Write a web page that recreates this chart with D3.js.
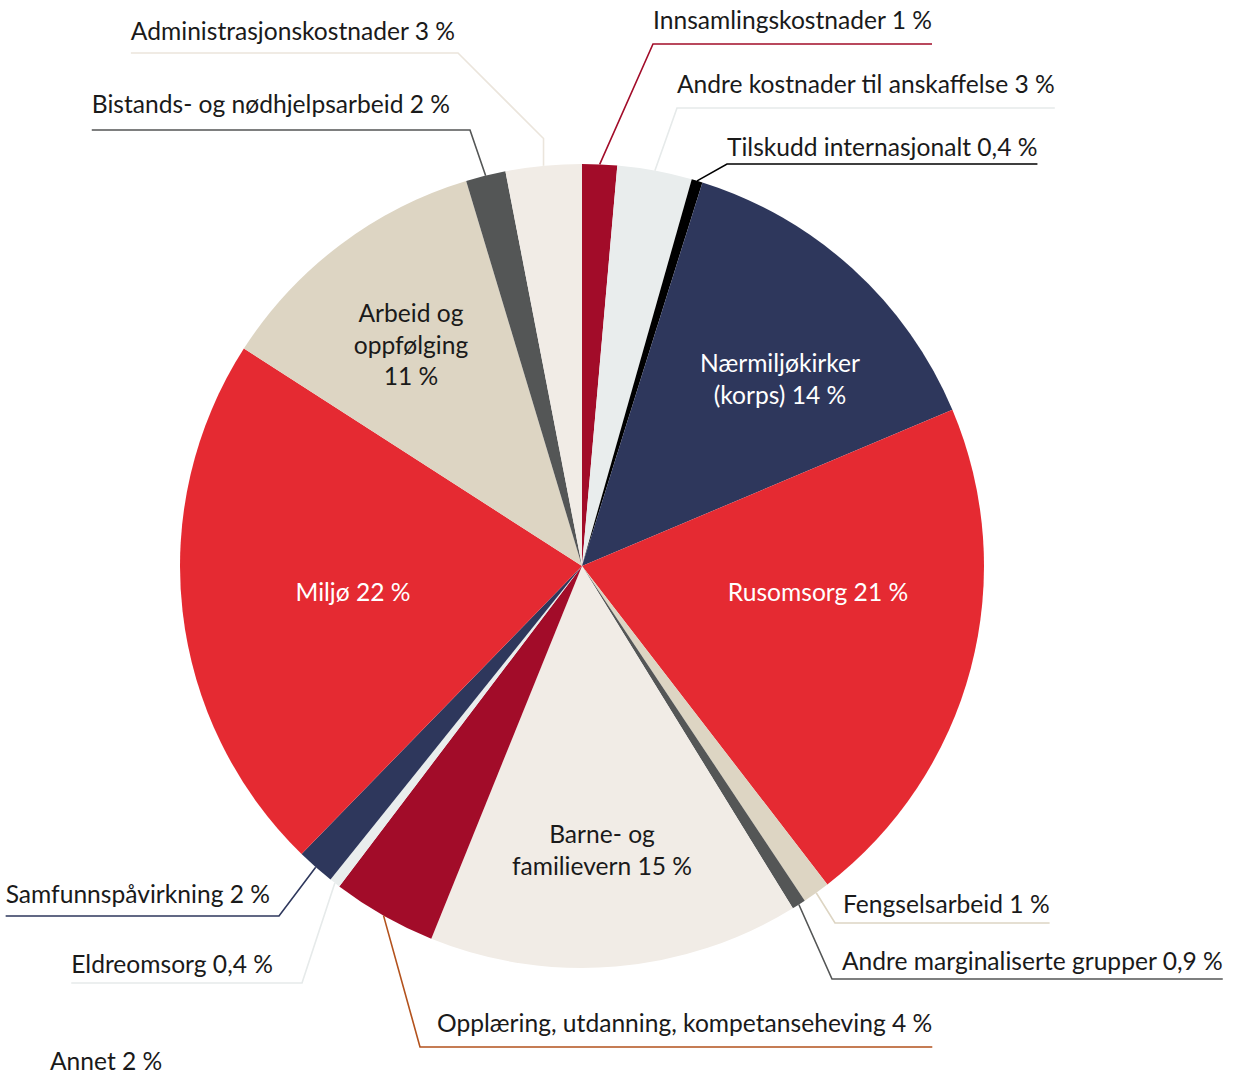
<!DOCTYPE html>
<html>
<head>
<meta charset="utf-8">
<script src="https://cdn.jsdelivr.net/npm/d3@7"></script>
<style>
  body { margin: 0; background: #fff; }
  text { font-family: Lato, "Open Sans", sans-serif; }
</style>
</head>
<body>
<div id="chart"></div>
<script>
// slices, clockwise from 12 o'clock
var names = [
  "Innsamlingskostnader", "Andre kostnader til anskaffelse", "Tilskudd internasjonalt",
  "Nærmiljøkirker (korps)", "Rusomsorg", "Fengselsarbeid", "Andre marginaliserte grupper",
  "Barne- og familievern", "Opplæring, utdanning, kompetanseheving", "Eldreomsorg",
  "Samfunnspåvirkning", "Miljø", "Arbeid og oppfølging", "Bistands- og nødhjelpsarbeid",
  "Administrasjonskostnader"
];
// share of the circle (percent)
var shares = [1.4, 3.0, 0.44, 13.8, 20.9, 1.1, 0.56, 14.9, 4.2, 0.44, 1.53, 21.8, 11.25, 1.6, 3.05];
// printed labels
var pctText = ["1 %", "3 %", "0,4 %", "14 %", "21 %", "1 %", "0,9 %", "15 %", "4 %", "0,4 %", "2 %", "22 %", "11 %", "2 %", "3 %"];
var extraLabel = "Annet 2 %";

var colors = ["#a20c29", "#e9eded", "#000000", "#2e375c", "#e52a32", "#ddd5c3", "#545656",
  "#f1ece6", "#a20c29", "#e9eded", "#2e375c", "#e52a32", "#ddd5c3", "#545656", "#f1ece6"];
var lineColors = ["#a20c29", "#e6eaea", "#000000", "#2e375c", "#e52a32", "#ddd5c3", "#545656",
  "#f1ece6", "#b3521d", "#e6eaea", "#2e375c", "#e52a32", "#ddd5c3", "#545656", "#ebe5dc"];

var W = 1241, H = 1076;
var cx = 582, cy = 566, R = 402;
var fs = 24.6;

var svg = d3.select("#chart").append("svg")
  .attr("width", W).attr("height", H)
  .attr("viewBox", "0 0 " + W + " " + H);

var data = names.map(function (n, i) {
  return { name: n, share: shares[i], pct: pctText[i], color: colors[i], line: lineColors[i] };
});

var pie = d3.pie().sort(null).value(function (d) { return d.share; });
var arcs = pie(data);
var arc = d3.arc().innerRadius(0).outerRadius(R);
var rim = d3.arc().innerRadius(R).outerRadius(R);

var g = svg.append("g").attr("transform", "translate(" + cx + "," + cy + ")");
g.selectAll("path.slice")
  .data(arcs)
  .enter().append("path")
  .attr("class", "slice")
  .attr("d", arc)
  .attr("fill", function (d) { return d.data.color; });

// labels inside the big slices (line list, centre x, first baseline, colour)
var inner = {
  3: { lines: ["Nærmiljøkirker", "(korps) 14 %"], x: 780, y: 372, fill: "#fff" },
  4: { lines: ["Rusomsorg 21 %"], x: 818, y: 601, fill: "#fff" },
  7: { lines: ["Barne- og", "familievern 15 %"], x: 602, y: 843, fill: "#1a1a1a" },
  11: { lines: ["Miljø 22 %"], x: 353, y: 601, fill: "#fff" },
  12: { lines: ["Arbeid og", "oppfølging", "11 %"], x: 411, y: 322, fill: "#1a1a1a" }
};
Object.keys(inner).forEach(function (k) {
  var L = inner[k];
  var t = svg.append("text")
    .attr("text-anchor", "middle")
    .attr("font-size", fs)
    .attr("fill", L.fill);
  L.lines.forEach(function (s, j) {
    t.append("tspan").attr("x", L.x).attr("y", L.y + j * 31.5).text(s);
  });
});

// outer labels: text x, baseline, underline y, attach x on the underline, optional elbow
var outer = {
  0: { x: 653, y: 29, ly: 44, ax: 653, side: "left" },
  1: { x: 677, y: 93, ly: 108, ax: 677, side: "left" },
  2: { x: 727, y: 156, ly: 164, ax: 727, side: "left" },
  5: { x: 843, y: 913, ly: 923, ax: 835, side: "left" },
  6: { x: 842, y: 970, ly: 979, ax: 832, side: "left" },
  8: { x: 437, y: 1032, ly: 1047, ax: 420, side: "left" },
  9: { x: 273, y: 973, ly: 983, ax: 302, side: "right" },
  10: { x: 270, y: 903, ly: 916, ax: 279, side: "right" },
  13: { x: 450, y: 113, ly: 130, ax: 470, side: "right" },
  14: { x: 455, y: 40, ly: 53, ax: 458, side: "right", elbow: true }
};

Object.keys(outer).forEach(function (k) {
  var L = outer[k];
  var a = arcs[+k];
  var c = rim.centroid(a);
  var px = cx + c[0], py = cy + c[1];
  var t = svg.append("text")
    .attr("x", L.x).attr("y", L.y)
    .attr("font-size", fs)
    .attr("fill", "#1a1a1a")
    .attr("text-anchor", L.side === "left" ? "start" : "end")
    .text(a.data.name + " " + a.data.pct);
  var bb = t.node().getBBox();
  var pts = [[px, py]];
  if (L.elbow) pts.push([px, L.ly + (px - L.ax)]);
  pts.push([L.ax, L.ly]);
  pts.push([L.side === "left" ? bb.x + bb.width : bb.x, L.ly]);
  svg.append("path")
    .attr("d", d3.line()(pts))
    .attr("fill", "none")
    .attr("stroke", a.data.line)
    .attr("stroke-width", 1.6);
});

svg.append("text")
  .attr("x", 50).attr("y", 1070)
  .attr("font-size", fs)
  .attr("fill", "#1a1a1a")
  .text(extraLabel);
</script>
</body>
</html>
